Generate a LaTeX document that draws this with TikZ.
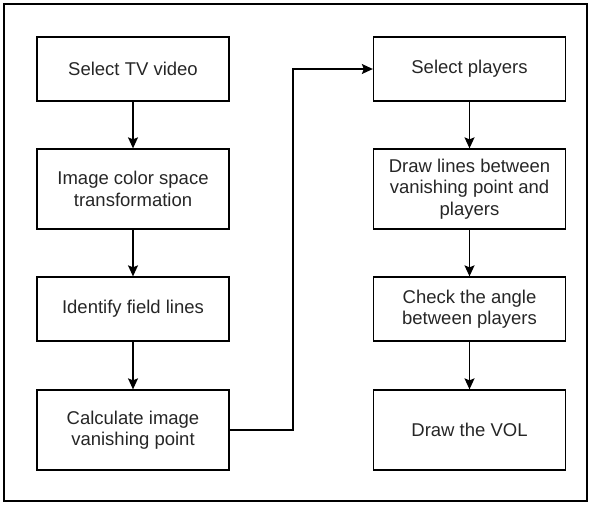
\documentclass[tikz,border=0pt]{standalone}
\usepackage{fontspec}
\setmainfont{Liberation Sans}
\usetikzlibrary{arrows.meta}
\definecolor{txt}{HTML}{262626}
\begin{document}
\begin{tikzpicture}[x=1pt,y=-1pt,
  stepbox/.style={draw=black,line width=1.3pt,minimum width=192pt,inner sep=0pt,align=center,font=\fontsize{18.5}{21.5}\selectfont,text=txt},
  conn/.style={draw=black,line width=1.3pt,-{Stealth[length=11pt,width=10pt,inset=2pt]}}]
\useasboundingbox (0,0) rectangle (591,504);
\draw[line width=1.3pt] (4,4) rectangle (587,501);
\node[stepbox,minimum height=64pt] (a1) at (133,69) {Select TV video};
\node[stepbox,minimum height=80pt] (a2) at (133,189) {Image color space\\transformation};
\node[stepbox,minimum height=64pt] (a3) at (133,309) {Identify field lines};
\node[stepbox,minimum height=80pt] (a4) at (133,430) {Calculate image\\vanishing point};
\node[stepbox,minimum height=64pt] (b1) at (469.5,69) {Select players};
\node[stepbox,minimum height=80pt] (b2) at (469.5,189) {Draw lines between\\vanishing point and\\players};
\node[stepbox,minimum height=64pt] (b3) at (469.5,309) {Check the angle\\between players};
\node[stepbox,minimum height=80pt] (b4) at (469.5,430) {Draw the VOL};
\coordinate (e1) at (293,430);
\coordinate (e2) at (293,69);
\draw[conn] (a1) -- (a2);
\draw[conn] (a2) -- (a3);
\draw[conn] (a3) -- (a4);
\draw[conn] (b1) -- (b2);
\draw[conn] (b2) -- (b3);
\draw[conn] (b3) -- (b4);
\draw[conn] (a4.east) -- (e1) -- (e2) -- (b1.west);
\end{tikzpicture}
\end{document}
